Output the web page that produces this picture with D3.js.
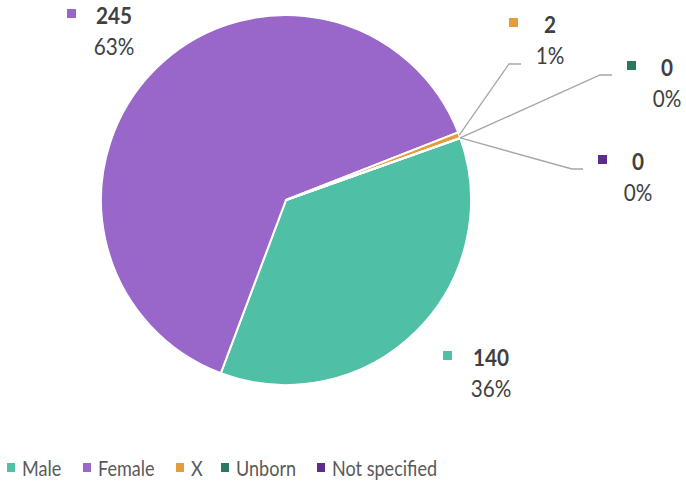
<!DOCTYPE html>
<html>
<head>
<meta charset="utf-8">
<script src="https://cdn.jsdelivr.net/npm/d3@7"></script>
<style>
  body { margin: 0; background: #fff; }
  svg { display: block; font-family: Lato, "Open Sans", sans-serif; }
</style>
</head>
<body>
<svg width="686" height="484"></svg>
<script>
const categories = ["Male", "Female", "X", "Unborn", "Not specified"];
const counts = [140, 245, 2, 0, 0];
const percentLabels = ["36%", "63%", "1%", "0%", "0%"];
const colors = ["#4fbfa5", "#9966c9", "#e39d3a", "#29785f", "#5c2d8c"];

const width = 686;
const height = 484;
const cx = 286, cy = 200, radius = 185;
const startDeg = 70.4;

// label block: text centre, marker left edge, baseline of the value line
const labelPos = [
    { tx: 491, mx: 443, y: 366 },
    { tx: 114, mx: 67, y: 24 },
    { tx: 550, mx: 509, y: 33 },
    { tx: 667, mx: 627, y: 76 },
    { tx: 638, mx: 598, y: 170 }
];
// elbow of the leader line for the small slices: [bend point, end point]
const leaders = [
    null,
    null,
    [[509, 64], [521, 64]],
    [[600, 75], [612, 75]],
    [[572, 169], [583, 169]]
];

const svg = d3.select("svg");
const labelColor = "#404040";
const legendColor = "#595959";

const rad = (d) => d * Math.PI / 180;

const pie = d3.pie()
    .sort(null)
    .value((d) => d)
    .startAngle(rad(startDeg))
    .endAngle(rad(startDeg + 360));

const arcs = pie(counts);

const arc = d3.arc()
    .innerRadius(0)
    .outerRadius(radius);

const g = svg.append("g")
    .attr("transform", "translate(" + cx + "," + cy + ")");

g.selectAll("path")
    .data(arcs)
    .enter()
    .append("path")
    .attr("d", arc)
    .attr("fill", (d, i) => colors[i])
    .attr("stroke", "#fff")
    .attr("stroke-width", 2)
    .attr("stroke-linejoin", "round");

//Leader lines start on the rim at the middle of the slice
arcs.forEach((a, i) => {
    if (!leaders[i]) return;
    const mid = (a.startAngle + a.endAngle) / 2;
    const sx = cx + Math.sin(mid) * radius;
    const sy = cy - Math.cos(mid) * radius;
    const pts = [[sx, sy]].concat(leaders[i]);
    svg.append("path")
        .attr("d", d3.line()(pts))
        .attr("fill", "none")
        .attr("stroke", "#a6a6a6")
        .attr("stroke-width", 1.3);
});

//Data labels: marker, bold value, percent underneath
const labels = svg.selectAll("g.label")
    .data(arcs)
    .enter()
    .append("g")
    .attr("class", "label");

labels.append("rect")
    .attr("x", (d, i) => labelPos[i].mx)
    .attr("y", (d, i) => labelPos[i].y - 15)
    .attr("width", 9)
    .attr("height", 9)
    .attr("fill", (d, i) => colors[i]);

labels.append("text")
    .attr("transform", (d, i) => "translate(" + labelPos[i].tx + "," + labelPos[i].y + ") scale(0.9,1)")
    .attr("text-anchor", "middle")
    .attr("font-size", 23)
    .attr("font-weight", "bold")
    .attr("fill", labelColor)
    .text((d) => d.data);

labels.append("text")
    .attr("transform", (d, i) => "translate(" + labelPos[i].tx + "," + (labelPos[i].y + 31) + ") scale(0.9,1)")
    .attr("text-anchor", "middle")
    .attr("font-size", 23)
    .attr("fill", labelColor)
    .text((d, i) => percentLabels[i]);

//Legend along the bottom
const legendX = [7, 83, 176, 221, 317];
const legend = svg.selectAll("g.legend")
    .data(categories)
    .enter()
    .append("g")
    .attr("class", "legend")
    .attr("transform", (d, i) => "translate(" + legendX[i] + ",476)");

legend.append("rect")
    .attr("x", 0)
    .attr("y", -13)
    .attr("width", 8)
    .attr("height", 9)
    .attr("fill", (d, i) => colors[i]);

legend.append("text")
    .attr("transform", "translate(15,0) scale(0.86,1)")
    .attr("font-size", 21)
    .attr("fill", legendColor)
    .text((d) => d);
</script>
</body>
</html>
